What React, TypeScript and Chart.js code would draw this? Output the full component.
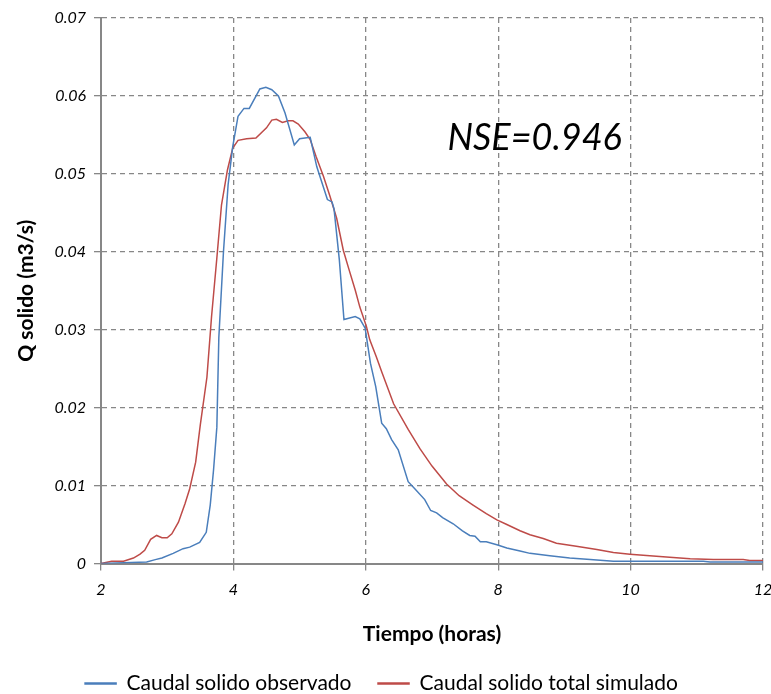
import React, { useEffect, useRef } from "react";
import { Chart, registerables } from "chart.js";

Chart.register(...registerables);

const obsX = [2.0, 2.69, 2.82, 2.92, 3.09, 3.24, 3.34, 3.49, 3.59, 3.65, 3.7, 3.75, 3.78, 3.85, 3.92, 3.99, 4.07, 4.16, 4.24, 4.4, 4.49, 4.58, 4.68, 4.78, 4.92, 5.0, 5.16, 5.26, 5.42, 5.49, 5.52, 5.6, 5.67, 5.84, 5.91, 5.99, 6.07, 6.15, 6.24, 6.31, 6.39, 6.49, 6.64, 6.74, 6.89, 6.98, 7.07, 7.16, 7.32, 7.46, 7.57, 7.65, 7.73, 7.82, 7.98, 8.13, 8.33, 8.48, 8.78, 9.08, 9.39, 9.74, 11.1, 11.2, 12.0];
const obsY = [0, 0.0002, 0.0005, 0.0007, 0.0013, 0.0019, 0.0021, 0.0027, 0.004, 0.0075, 0.012, 0.0175, 0.029, 0.04, 0.0486, 0.0535, 0.0574, 0.0584, 0.0584, 0.0609, 0.0611, 0.0608, 0.06, 0.0578, 0.0537, 0.0545, 0.0547, 0.0509, 0.0467, 0.0464, 0.0455, 0.039, 0.0313, 0.0317, 0.0314, 0.0302, 0.0257, 0.0227, 0.018, 0.0173, 0.0159, 0.0146, 0.0105, 0.0096, 0.0082, 0.0068, 0.0065, 0.0059, 0.0051, 0.0042, 0.0036, 0.0035, 0.0028, 0.0028, 0.0024, 0.002, 0.0016, 0.0013, 0.001, 0.0007, 0.0005, 0.0003, 0.0003, 0.0002, 0.0002];

const simX = [2.0, 2.16, 2.34, 2.49, 2.59, 2.66, 2.75, 2.84, 2.92, 3.0, 3.07, 3.17, 3.27, 3.34, 3.43, 3.5, 3.6, 3.67, 3.75, 3.82, 3.91, 3.99, 4.07, 4.2, 4.34, 4.5, 4.58, 4.65, 4.74, 4.83, 4.9, 4.98, 5.08, 5.16, 5.25, 5.36, 5.46, 5.56, 5.66, 5.74, 5.84, 5.91, 6.01, 6.06, 6.16, 6.24, 6.42, 6.64, 6.82, 7.0, 7.22, 7.41, 7.62, 7.82, 7.98, 8.13, 8.33, 8.48, 8.68, 8.88, 9.18, 9.49, 9.74, 9.99, 10.29, 10.59, 10.9, 11.25, 11.7, 11.8, 12.0];
const simY = [0, 0.0003, 0.0003, 0.0007, 0.0012, 0.0017, 0.0031, 0.0036, 0.0033, 0.0033, 0.0038, 0.0053, 0.0077, 0.0096, 0.013, 0.0178, 0.0239, 0.0317, 0.0392, 0.046, 0.0505, 0.0533, 0.0543, 0.0545, 0.0546, 0.0559, 0.0569, 0.057, 0.0566, 0.0568, 0.0568, 0.0564, 0.0554, 0.0544, 0.0522, 0.0497, 0.0471, 0.0443, 0.0402, 0.0379, 0.0351, 0.0329, 0.0304, 0.0287, 0.0265, 0.0246, 0.0205, 0.0172, 0.0147, 0.0125, 0.0102, 0.0087, 0.0075, 0.0064, 0.0056, 0.005, 0.0042, 0.0037, 0.0032, 0.0026, 0.0022, 0.0018, 0.0014, 0.0012, 0.001, 0.0008, 0.0006, 0.0005, 0.0005, 0.0004, 0.0004];

const seriesNames = ["Caudal solido observado", "Caudal solido total simulado"];
const xTitle = "Tiempo (horas)";
const yTitle = "Q solido (m3/s)";
const annotationText = "NSE=0.946";
const annotationPos = { x: 8.55, y: 0.0546 };

const FONT = "Lato, 'Open Sans', sans-serif";
const GRID = "#878787";

export default function App() {
  const ref = useRef<HTMLCanvasElement | null>(null);
  useEffect(() => {
    if (!ref.current) return;
    const textPlugin = {
      id: "nseText",
      afterDatasetsDraw(chart: any) {
        const { ctx, scales } = chart;
        const px = scales.x.getPixelForValue(annotationPos.x);
        const py = scales.y.getPixelForValue(annotationPos.y);
        ctx.save();
        ctx.font = `italic 36px ${FONT}`;
        ctx.fillStyle = "#000";
        ctx.textAlign = "center";
        ctx.textBaseline = "middle";
        ctx.fillText(annotationText, px, py);
        ctx.restore();
      },
    };
    const gridOpts = {
      color: GRID,
      tickLength: 7,
      tickBorderDash: [],
      tickColor: GRID,
      lineWidth: 1.3,
    };
    const borderOpts = { display: true, color: GRID, width: 2, dash: [5, 4] };
    const chart = new Chart(ref.current, {
      type: "line",
      data: {
        datasets: [
          {
            label: seriesNames[0],
            data: obsX.map((x, i) => ({ x, y: obsY[i] })),
            borderColor: "#4A7EBB",
            backgroundColor: "#4A7EBB",
            borderWidth: 1.5,
            pointRadius: 0,
            tension: 0,
          },
          {
            label: seriesNames[1],
            data: simX.map((x, i) => ({ x, y: simY[i] })),
            borderColor: "#BE4B48",
            backgroundColor: "#BE4B48",
            borderWidth: 1.5,
            pointRadius: 0,
            tension: 0,
          },
        ],
      },
      options: {
        animation: false,
        responsive: false,
        maintainAspectRatio: false,
        layout: { padding: { left: 0, right: 8, top: 18, bottom: -10 } },
        plugins: {
          legend: {
            position: "bottom",
            labels: {
              font: { family: FONT, size: 21 },
              color: "#000",
              boxWidth: 31,
              boxHeight: 1,
              padding: 26.5,
            },
          },
          tooltip: { enabled: false },
        },
        scales: {
          x: {
            type: "linear",
            min: 2,
            max: 12,
            ticks: {
              stepSize: 2,
              font: { family: FONT, size: 16, style: "italic" },
              color: "#000",
              padding: 10,
            },
            grid: gridOpts,
            border: borderOpts,
            title: {
              display: true,
              text: xTitle,
              font: { family: FONT, size: 21, weight: "bold" },
              color: "#000",
              padding: { top: 0, bottom: 0 },
            },
            afterFit: (s: any) => {
              s.height = 83;
              s.paddingRight = 0;
            },
          },
          y: {
            type: "linear",
            min: 0,
            max: 0.07,
            ticks: {
              stepSize: 0.01,
              font: { family: FONT, size: 16, style: "italic" },
              color: "#000",
              padding: 8,
              callback: (v: any) => (Math.round(Number(v) * 100) / 100).toString(),
            },
            grid: gridOpts,
            border: borderOpts,
            title: {
              display: true,
              text: yTitle,
              font: { family: FONT, size: 21, weight: "bold" },
              color: "#000",
              padding: { top: 14, bottom: 0 },
            },
            afterFit: (s: any) => {
              s.width = 101;
            },
          },
        },
      },
      plugins: [textPlugin],
    } as any);
    return () => chart.destroy();
  }, []);
  return (
    <div style={{ position: "absolute", left: 0, top: 0, width: 771, height: 694, background: "#fff" }}>
      <canvas ref={ref} width={771} height={694} style={{ width: 771, height: 694 }} />
    </div>
  );
}
